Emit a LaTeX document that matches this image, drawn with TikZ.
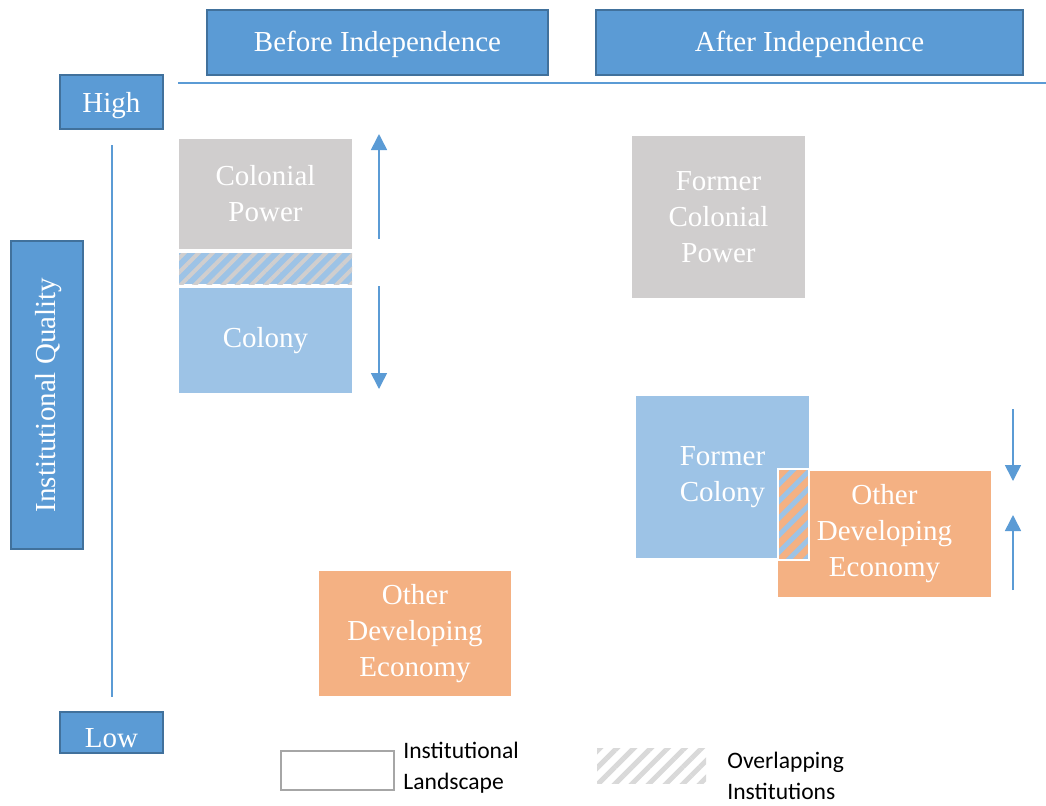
\documentclass[tikz,border=0pt]{standalone}
\usepackage{fontspec}
\setmainfont{Liberation Serif}
\newfontfamily\legendfont{Carlito}
\usepackage{tikz}
\usetikzlibrary{arrows.meta,positioning,patterns.meta}
\definecolor{iqBlue}  {RGB}{ 91,155,213}
\definecolor{iqBlueD} {RGB}{ 65,113,156}
\definecolor{iqBlueL} {RGB}{157,195,230}
\definecolor{iqGrey}  {RGB}{208,206,206}
\definecolor{iqOrange}{RGB}{244,177,131}
\definecolor{iqFrame} {RGB}{166,166,166}
\definecolor{iqHatch} {RGB}{217,217,217}
\begin{document}
\begin{tikzpicture}[
  x=0.5pt,y=-0.5pt,
  every node/.style={font=\fontsize{14.5}{18}\selectfont,inner sep=0pt},
  hdr/.style={draw=iqBlueD,line width=0.8pt,fill=iqBlue,text=white,text height=12pt},
  blk/.style={text=white,align=center},
  axisln/.style={draw=iqBlue,line width=0.6pt},
  tendency/.style={draw=iqBlue,line width=0.8pt,-{Triangle[width=8pt,length=8pt]}},
  legtxt/.style={font=\legendfont\fontsize{11.8}{15.5}\selectfont,align=left,anchor=west}
]
\useasboundingbox (0,0) rectangle (1046,805);

% headers
\node[hdr,minimum width=170.5pt,minimum height=32.5pt] (before) at (377.5,42.5) {Before Independence};
\node[hdr,minimum width=213.5pt,minimum height=32.5pt] (after)  at (809.5,42.5) {After Independence};

% quality axis
\node[hdr,text height=14pt,minimum width=51.5pt,minimum height=27pt]   (high) at (111.5,102)   {High};
\node[hdr,text height=15.5pt,minimum width=51.5pt,minimum height=20.5pt] (low)  at (111.5,732.5) {Low};
\node[hdr,rotate=90,minimum width=154pt,minimum height=36pt] (iq) at (47,395) {Institutional Quality};
\coordinate (hL) at (178,83);  \coordinate (hR) at (1046,83);
\coordinate (vT) at (112,145); \coordinate (vB) at (112,697);
\draw[axisln] (hL) -- (hR);
\draw[axisln] (vT) -- (vB);

% before independence
\node[blk,fill=iqGrey,minimum width=86.5pt,minimum height=55pt] (cp) at (265.5,194) {Colonial\\Power};
\node[fill=iqBlueL,minimum width=86.5pt,minimum height=15.5pt,
      postaction={pattern={Lines[angle=45,distance=5pt,line width=2pt]},pattern color=iqGrey}]
   (ovA) at (265.5,268.5) {};
\node[blk,fill=iqBlueL,minimum width=86.5pt,minimum height=52.5pt] (col) at (265.5,340.5) {Colony};
\node[blk,fill=iqOrange,minimum width=96pt,minimum height=62.5pt] (odeA) at (415,633.5) {Other\\Developing\\Economy};
\coordinate (upA0) at (379,239); \coordinate (upA1) at (379,134);
\coordinate (dnA0) at (379,286); \coordinate (dnA1) at (379,389);
\draw[tendency] (upA0) -- (upA1);
\draw[tendency] (dnA0) -- (dnA1);

% after independence
\node[blk,fill=iqGrey,minimum width=86.5pt,minimum height=81pt] (fcp) at (718.5,217) {Former\\Colonial\\Power};
\node[blk,fill=iqBlueL,minimum width=86.5pt,minimum height=81pt] (fc) at (722.5,477) {Former\\Colony};
\node[blk,fill=iqOrange,minimum width=106.5pt,minimum height=63pt] (odeB) at (884.5,534) {Other\\Developing\\Economy};
\node[draw=white,line width=1pt,fill=iqOrange,minimum width=15.5pt,minimum height=45.5pt,
      postaction={pattern={Lines[angle=45,distance=6pt,line width=2.5pt]},pattern color=iqBlueL}]
   (ovB) at (793.5,514.5) {};
\node[draw=white,line width=1pt,minimum width=15.5pt,minimum height=45.5pt] at (ovB) {};
\coordinate (dnB0) at (1013,409); \coordinate (dnB1) at (1013,481);
\coordinate (upB0) at (1013,590); \coordinate (upB1) at (1013,515);
\draw[tendency] (dnB0) -- (dnB1);
\draw[tendency] (upB0) -- (upB1);

% legend
\node[draw=iqFrame,line width=1pt,fill=white,minimum width=56.5pt,minimum height=19.5pt] (legL) at (337.5,770.5) {};
\node[legtxt] (legLt) at (403,768) {Institutional\\Landscape};
\node[minimum width=54.5pt,minimum height=17.5pt,
      pattern={Lines[angle=45,distance=6pt,line width=2.5pt]},pattern color=iqHatch] (legO) at (651.5,765.5) {};
\node[legtxt] (legOt) at (727,776) {Overlapping\\Institutions};
\end{tikzpicture}
\end{document}
